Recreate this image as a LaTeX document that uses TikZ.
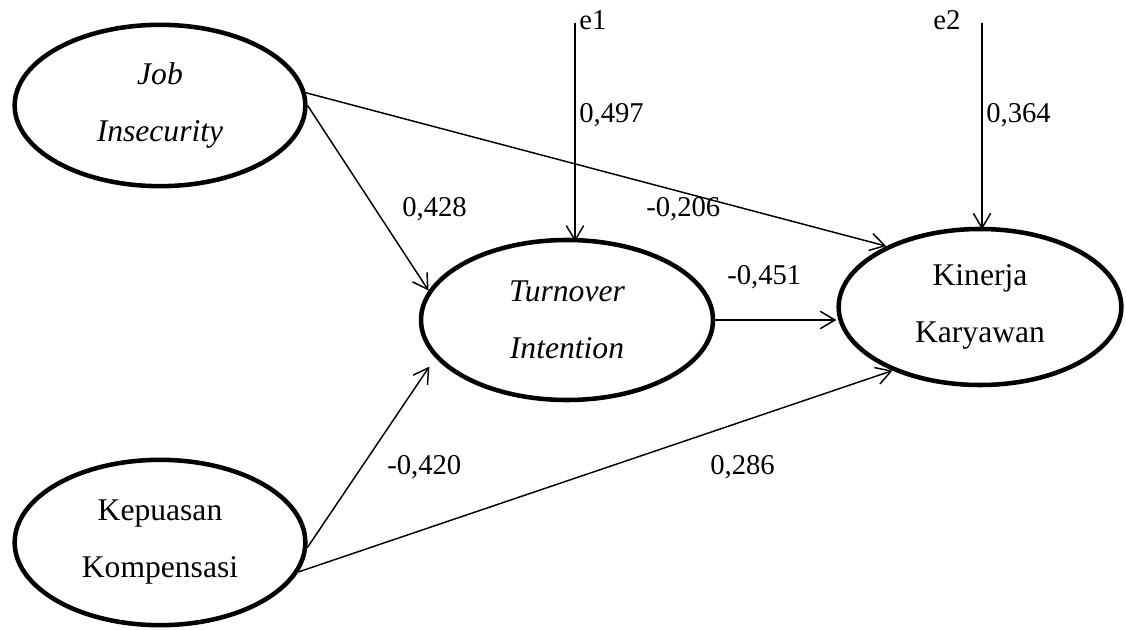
\documentclass[tikz,border=0pt]{standalone}
\usepackage{fontspec}
\setmainfont{Liberation Serif}
\usetikzlibrary{arrows.meta,shapes.geometric}
\begin{document}
\begin{tikzpicture}[x=0.75pt,y=-0.75pt,
  latent/.style={draw, ellipse, line width=3.4pt, inner sep=0pt, align=center,
    font=\fontsize{23.7}{42.75}\selectfont},
  pathline/.style={line width=1.1pt, -{Straight Barb[length=11pt,width=13pt,line width=1.1pt]}},
  coef/.style={font=\fontsize{21.5}{25}\selectfont, anchor=base west, inner sep=0pt}]
\useasboundingbox (0,0) rectangle (1126,630);
\node[latent, minimum width=218pt, minimum height=121pt] (J) at (160,105.5) {\textit{Job}\\\textit{Insecurity}};
\node[latent, minimum width=219pt, minimum height=120pt] (T) at (567,320) {\textit{Turnover}\\\textit{Intention}};
\node[latent, minimum width=212pt, minimum height=117pt] (K) at (980,307) {Kinerja\\Karyawan};
\node[latent, minimum width=218pt, minimum height=124pt] (P) at (160,542.5) {Kepuasan\\Kompensasi};
\coordinate (e1c) at (575,23);
\coordinate (e2c) at (982,23);
\draw[pathline] (J.0) -- (T.168);
\draw[pathline] (J.5) -- (K.147);
\draw[pathline] (T.east) -- (T.east -| K.west);
\draw[pathline, shorten >=8pt] (P.-2) -- (T.196);
\draw[pathline] (P.-12) -- (K.216);
\draw[pathline] (e1c) -- ([yshift=-3pt]e1c |- T.north);
\draw[pathline] (e2c) -- ([yshift=-2pt]e2c |- K.north);
\node[coef] (l1) at (402,217) {0,428};
\node[coef] (l2) at (646,217) {-0,206};
\node[coef] (l3) at (727,285) {-0,451};
\node[coef] (l4) at (387,474) {-0,420};
\node[coef] (l5) at (710,474) {0,286};
\node[coef] (l6) at (579,123) {0,497};
\node[coef] (l7) at (986,123) {0,364};
\node[coef] (e1) at (579,30) {e1};
\node[coef] (e2) at (933,30) {e2};
\end{tikzpicture}
\end{document}
